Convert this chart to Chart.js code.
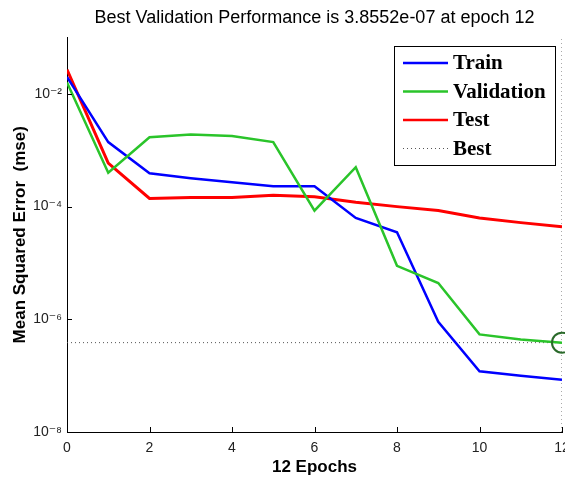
<!DOCTYPE html>
<html lang="en">
<head>
    <meta charset="UTF-8">
    <title>Best Validation Performance</title>
    <script src="https://cdn.jsdelivr.net/npm/chart.js"></script>
    <style>
        html, body { margin: 0; padding: 0; background: #fff; }
        #wrap { width: 565px; height: 482px; }
    </style>
</head>
<body>
<div id="wrap"><canvas id="perfChart"></canvas></div>
<script>
    // values
    const epochs = [0, 1, 2, 3, 4, 5, 6, 7, 8, 9, 10, 11, 12];
    const trainMse = [2.0e-2, 1.4e-3, 3.9e-4, 3.2e-4, 2.7e-4, 2.3e-4, 2.3e-4, 6.3e-5, 3.5e-5, 9.0e-7, 1.2e-7, 1.0e-7, 8.5e-8];
    const validMse = [1.6e-2, 4.0e-4, 1.7e-3, 1.9e-3, 1.8e-3, 1.4e-3, 8.5e-5, 5.0e-4, 8.9e-6, 4.4e-6, 5.4e-7, 4.4e-7, 3.8552e-7];
    const testMse  = [2.7e-2, 5.9e-4, 1.4e-4, 1.45e-4, 1.45e-4, 1.6e-4, 1.5e-4, 1.2e-4, 1.0e-4, 8.5e-5, 6.3e-5, 5.2e-5, 4.4e-5];
    const bestEpoch = 12;
    const bestPerf = 3.8552e-7;
    const yTicks = [1e-8, 1e-6, 1e-4, 1e-2];
    const yTickLabels = ['10\u207B\u2078', '10\u207B\u2076', '10\u207B\u2074', '10\u207B\u00B2'];
    const xTicks = [0, 2, 4, 6, 8, 10, 12];

    const pts = arr => arr.map((v, i) => ({ x: epochs[i], y: v }));

    // inward tick marks, MATLAB style
    const innerTicks = {
        id: 'innerTicks',
        afterDraw(chart) {
            const { ctx, chartArea, scales } = chart;
            ctx.save();
            ctx.strokeStyle = '#000';
            ctx.lineWidth = 1;
            ctx.beginPath();
            xTicks.forEach(t => {
                const px = Math.round(scales.x.getPixelForValue(t)) + 0.5;
                ctx.moveTo(px, chartArea.bottom);
                ctx.lineTo(px, chartArea.bottom - 5);
            });
            yTicks.forEach(t => {
                const py = Math.round(scales.y.getPixelForValue(t)) + 0.5;
                ctx.moveTo(chartArea.left, py);
                ctx.lineTo(chartArea.left + 5, py);
            });
            ctx.stroke();
            ctx.restore();
        }
    };

    // boxed legend inside the plot, upper right
    const boxLegend = {
        id: 'boxLegend',
        afterDraw(chart) {
            const ctx = chart.ctx;
            const entries = chart.data.datasets.filter(d => d.inLegend);
            const x0 = 394, y0 = 46, w = 161, h = 119;
            ctx.save();
            ctx.fillStyle = '#fff';
            ctx.fillRect(x0, y0, w, h);
            ctx.strokeStyle = '#000';
            ctx.lineWidth = 1;
            ctx.strokeRect(x0 + 0.5, y0 + 0.5, w, h);
            ctx.font = 'bold 21px "Liberation Serif", "Times New Roman", serif';
            ctx.textBaseline = 'middle';
            entries.forEach((d, i) => {
                const cy = y0 + 17 + i * 28.5;
                ctx.strokeStyle = d.borderColor;
                ctx.lineWidth = d.inLegend === 'dot' ? 1 : 2.5;
                ctx.setLineDash(d.borderDash || []);
                ctx.beginPath();
                ctx.moveTo(x0 + 9, cy);
                ctx.lineTo(x0 + 54, cy);
                ctx.stroke();
                ctx.setLineDash([]);
                ctx.fillStyle = '#000';
                ctx.fillText(d.label, x0 + 59, cy + 1);
            });
            ctx.restore();
        }
    };

    new Chart(document.getElementById('perfChart'), {
        type: 'line',
        data: {
            datasets: [
                { label: 'Train', data: pts(trainMse), borderColor: '#0000ff', borderWidth: 2.5, inLegend: 'line', order: 3 },
                { label: 'Validation', data: pts(validMse), borderColor: '#2ac42a', borderWidth: 2.5, inLegend: 'line', order: 2 },
                { label: 'Test', data: pts(testMse), borderColor: '#ff0000', borderWidth: 3, inLegend: 'line', order: 4 },
                { label: 'Best', data: [{ x: 0, y: bestPerf }, { x: bestEpoch, y: bestPerf }],
                  borderColor: '#555', borderWidth: 1, borderDash: [1, 3], inLegend: 'dot', order: 5 },
                { label: 'Best epoch', data: [{ x: bestEpoch, y: 1e-8 }, { x: bestEpoch, y: 1e-1 }],
                  borderColor: '#555', borderWidth: 1, borderDash: [1, 3], order: 5 },
                { label: 'Best point', data: [{ x: bestEpoch, y: bestPerf }], showLine: false,
                  pointRadius: 10, pointBorderWidth: 2, pointBorderColor: '#2a6a2a',
                  pointBackgroundColor: 'rgba(0,0,0,0)', clip: false, order: 1 }
            ]
        },
        options: {
            responsive: true,
            maintainAspectRatio: false,
            animation: false,
            layout: { autoPadding: false, padding: { top: 0, right: 3, left: 0, bottom: 0 } },
            elements: { point: { radius: 0, hoverRadius: 0 }, line: { tension: 0 } },
            plugins: {
                legend: { display: false },
                tooltip: { enabled: false },
                title: {
                    display: true,
                    fullSize: false,
                    text: 'Best Validation Performance is 3.8552e-07 at epoch 12',
                    color: '#000',
                    font: { family: '"Liberation Sans", Arial, sans-serif', size: 18, weight: 'normal' },
                    padding: { top: 7, bottom: 9 }
                }
            },
            scales: {
                x: {
                    type: 'linear',
                    min: 0,
                    max: 12,
                    afterFit: s => { s.height = 50; s.paddingLeft = 0; s.paddingRight = 0; },
                    afterBuildTicks: s => { s.ticks = xTicks.map(v => ({ value: v })); },
                    grid: { drawOnChartArea: false, drawTicks: false },
                    border: { display: true, color: '#000', width: 1 },
                    ticks: {
                        padding: 8,
                        color: '#222',
                        font: { family: '"Liberation Sans", Arial, sans-serif', size: 14 }
                    },
                    title: {
                        display: true,
                        text: '12 Epochs',
                        color: '#000',
                        font: { family: '"Liberation Sans", Arial, sans-serif', size: 17, weight: 'bold' },
                        padding: { top: 0, bottom: 4 }
                    }
                },
                y: {
                    type: 'logarithmic',
                    min: 1e-8,
                    max: 1e-1,
                    afterFit: s => { s.width = 67; s.paddingTop = 0; s.paddingBottom = 0; },
                    afterBuildTicks: s => { s.ticks = yTicks.map(v => ({ value: v })); },
                    grid: { drawOnChartArea: false, drawTicks: false },
                    border: { display: true, color: '#000', width: 1 },
                    ticks: {
                        padding: 5,
                        color: '#222',
                        font: { family: '"Liberation Sans", "DejaVu Sans", sans-serif', size: 14 },
                        callback: v => yTickLabels[yTicks.indexOf(v)] || ''
                    },
                    title: {
                        display: true,
                        text: 'Mean Squared Error  (mse)',
                        color: '#000',
                        font: { family: '"Liberation Sans", Arial, sans-serif', size: 17, weight: 'bold' },
                        padding: { top: 10, bottom: 0 }
                    }
                }
            }
        },
        plugins: [innerTicks, boxLegend]
    });
</script>
</body>
</html>
